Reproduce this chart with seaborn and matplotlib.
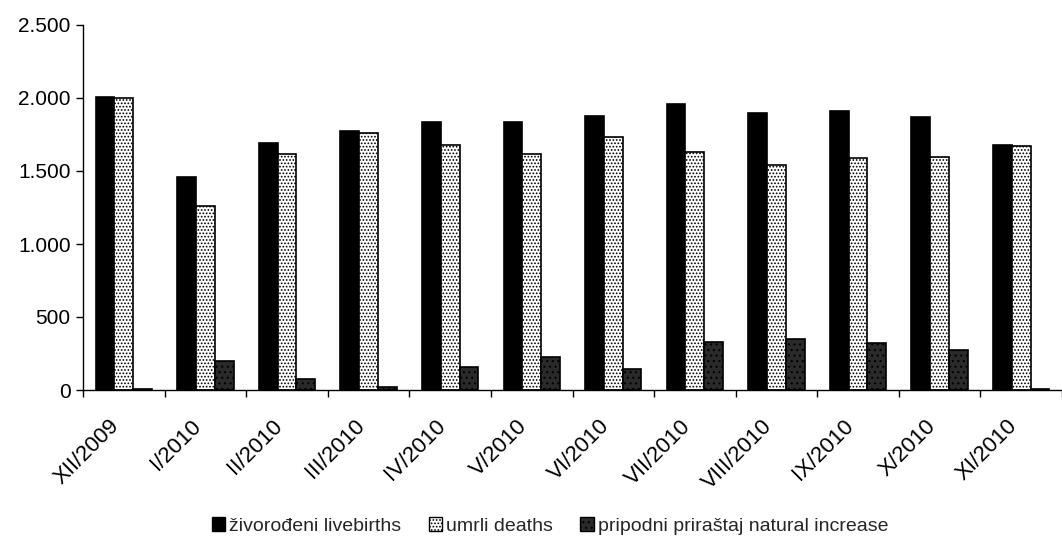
import matplotlib
matplotlib.use("Agg")
import matplotlib.pyplot as plt
import matplotlib.ticker as mticker
import matplotlib.transforms as mtrans
from matplotlib.patches import Patch
import numpy as np
import pandas as pd
import seaborn as sns

months = ["XII/2009", "I/2010", "II/2010", "III/2010", "IV/2010", "V/2010",
          "VI/2010", "VII/2010", "VIII/2010", "IX/2010", "X/2010", "XI/2010"]
livebirths = [2010, 1459, 1692, 1776, 1833, 1838, 1876, 1956, 1895, 1908, 1867, 1678]
deaths = [2003, 1259, 1619, 1757, 1676, 1615, 1731, 1627, 1544, 1588, 1595, 1673]
natural_increase = [7, 200, 73, 19, 157, 223, 145, 329, 351, 320, 272, 5]
series_names = ["živorođeni livebirths", "umrli deaths", "pripodni priraštaj natural increase"]
y_ticks = [0, 500, 1000, 1500, 2000, 2500]

df = pd.DataFrame({
    "month": months * 3,
    "value": livebirths + deaths + natural_increase,
    "series": [series_names[0]] * 12 + [series_names[1]] * 12 + [series_names[2]] * 12,
})

sns.set_theme(style="white")
plt.rcParams["font.family"] = ["Liberation Sans", "DejaVu Sans"]
plt.rcParams["hatch.linewidth"] = 0.8

W, H = 1062, 538
fig = plt.figure(figsize=(W / 100, H / 100), dpi=100)
left, right, bottom, top = 83, 1062, 390, 25
ax = fig.add_axes([left / W, 1 - bottom / H, (right - left) / W, (bottom - top) / H])

faces = ["#000000", "#ffffff", "#2a2a2a"]
hatches = [None, ".....", "..."]
palette = dict(zip(series_names, faces))
sns.barplot(data=df, x="month", y="value", hue="series", order=months,
            hue_order=series_names, palette=palette, width=0.69,
            saturation=1, legend=False, ax=ax, edgecolor="black", linewidth=1.2)

for cont, h in zip(ax.containers, hatches):
    for p in cont:
        if h:
            p.set_hatch(h)

ax.set_ylim(0, 2500)
ax.set_yticks(y_ticks)
ax.yaxis.set_major_formatter(mticker.FuncFormatter(lambda v, p: f"{int(v):,}".replace(",", ".")))
group_px = 82.5
ax.set_xlim(-0.5, -0.5 + (right - left) / group_px)
ax.set_xticks(np.arange(len(months)))
ax.set_xticklabels(months, rotation=45, ha="right", va="top", rotation_mode="default")
offset = mtrans.ScaledTranslation(-8 / 100, 0, fig.dpi_scale_trans)
for lab in ax.get_xticklabels():
    lab.set_transform(lab.get_transform() + offset)
ax.set_xticks(np.arange(len(months) + 1) - 0.5, minor=True)
ax.tick_params(axis="x", which="major", length=0, pad=18.5, labelsize=16, colors="black")
ax.tick_params(axis="x", which="minor", length=5, width=1, direction="out", color="black", bottom=True)
ax.tick_params(axis="y", length=5, width=1, direction="out", color="black", left=True,
               labelsize=15, labelcolor="black", pad=4)
ax.set_xlabel("")
ax.set_ylabel("")
for s in ["top", "right"]:
    ax.spines[s].set_visible(False)
for s in ["left", "bottom"]:
    ax.spines[s].set_color("black")
    ax.spines[s].set_linewidth(1)

handles = [Patch(facecolor=f, edgecolor="black", hatch=h, linewidth=1) for f, h in zip(faces, hatches)]
fig.legend(handles, series_names, loc="center", bbox_to_anchor=(550 / W, 1 - 526 / H),
           ncol=3, frameon=False, fontsize=14, handlelength=0.7, handleheight=0.7,
           handletextpad=0.2, columnspacing=1.4)

fig.savefig("out.png", dpi=100, facecolor="white")
